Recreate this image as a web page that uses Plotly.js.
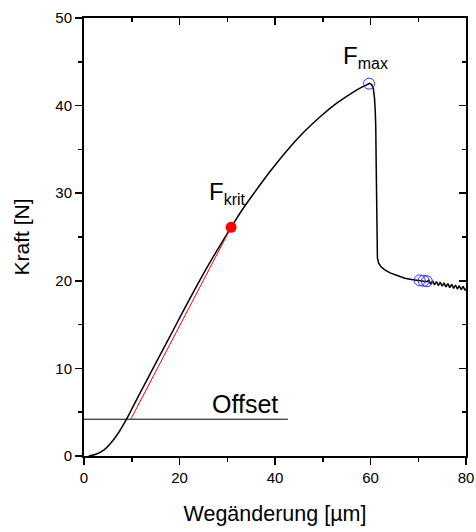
<!DOCTYPE html>
<html>
<head>
<meta charset="utf-8">
<script src="https://cdn.plot.ly/plotly-3.0.1.min.js"></script>
<style>html,body{margin:0;padding:0;background:#fff;}#chart{width:476px;height:532px;}</style>
</head>
<body>
<div id="chart"></div>
<script>
// Measured curve (Weg in µm, Kraft in N): loading part up to F_max
const loadX = [1.0, 2.5, 4.2, 5.8, 7.4, 8.9, 10.5, 13.0, 16.0, 19.0, 22.0, 25.0, 28.0, 30.8, 33.0, 35.4, 39.0, 42.4, 46.0, 49.4, 53.0, 56.4, 58.2, 59.3, 59.9];
const loadY = [0.0, 0.2, 0.7, 1.6, 2.8, 4.2, 5.9, 8.5, 11.6, 14.7, 17.8, 20.8, 23.6, 26.1, 28.0, 29.85, 32.5, 34.8, 36.95, 38.7, 40.3, 41.55, 42.1, 42.4, 42.55];
// Drop and tail after F_max
const dropX = [59.9, 60.3, 60.6, 60.85, 61.0, 61.1, 61.2, 61.3, 61.35, 61.45, 61.7, 62.2, 63.0, 64.1, 65.6, 67.2, 68.6, 69.7, 70.3, 71.1, 71.8,
  72.2, 72.6, 73.0, 73.4, 73.8, 74.2, 74.6, 75.0, 75.4, 75.8, 76.2, 76.6, 77.0, 77.4, 77.8, 78.2, 78.6, 79.0, 79.4, 79.8, 80.0];
const dropY = [42.55, 42.35, 41.9, 40.8, 39.3, 37.6, 33.0, 28.0, 24.0, 22.6, 22.0, 21.6, 21.25, 20.9, 20.6, 20.3, 20.15, 20.05, 20.0, 19.95, 19.9,
  20.08, 19.62, 20.0, 19.54, 19.92, 19.46, 19.84, 19.38, 19.76, 19.3, 19.68, 19.22, 19.6, 19.14, 19.52, 19.06, 19.44, 18.98, 19.36, 18.9, 19.1];
// Tangent (red) line
const fitX = [9.8, 30.8];
const fitY = [4.2, 26.1];
// Offset line
const offsetX = [0, 42.7];
const offsetY = [4.2, 4.2];
// F_krit point
const fkritX = [30.8];
const fkritY = [26.1];
// F_max and end circles
const circX = [59.7, 70.3, 71.1, 71.8];
const circY = [42.5, 20.05, 20.0, 19.95];
// Labels
const labelText = ['F<sub><span style="font-size:16px">max</span></sub>', 'F<sub><span style="font-size:16px">krit</span></sub>', 'Offset'];
const labelX = [53.9, 25.8, 26.4];
const labelY = [45.6, 30.0, 5.9];

const FONT = 'Liberation Sans, Arial, sans-serif';

const traces = [
  {x: offsetX, y: offsetY, mode: 'lines', line: {color: '#000', width: 1}, hoverinfo: 'skip'},
  {x: loadX, y: loadY, mode: 'lines', line: {color: '#000', width: 1.5, shape: 'spline', smoothing: 0.8}, hoverinfo: 'skip'},
  {x: dropX, y: dropY, mode: 'lines', line: {color: '#000', width: 1.5}, hoverinfo: 'skip'},
  {x: fitX, y: fitY, mode: 'lines', line: {color: '#ff0000', width: 1}, hoverinfo: 'skip'},
  {x: fkritX, y: fkritY, mode: 'markers', marker: {color: '#ff0000', size: 11, symbol: 'circle'}, hoverinfo: 'skip'},
  {x: circX, y: circY, mode: 'markers', marker: {color: '#3333ff', size: 11, symbol: 'circle-open', line: {width: 1, color: '#3333ff'}}, hoverinfo: 'skip'},
  {x: [0], y: [0], xaxis: 'x2', yaxis: 'y2', mode: 'markers', marker: {opacity: 0}, hoverinfo: 'skip'}
];

const axisCommon = {
  showgrid: false, zeroline: false, showline: true, linecolor: '#000', linewidth: 2,
  ticks: 'outside', ticklen: 7, tickwidth: 1.5, tickcolor: '#000',
  tickfont: {family: FONT, size: 15, color: '#000'},
  fixedrange: true
};

const layout = {
  width: 476, height: 532,
  margin: {l: 84, r: 10, t: 18, b: 76},
  paper_bgcolor: '#fff', plot_bgcolor: '#fff',
  showlegend: false,
  font: {family: FONT, color: '#000'},
  xaxis: Object.assign({}, axisCommon, {
    range: [0, 80], dtick: 20, tick0: 0,
    minor: {dtick: 10, ticks: 'outside', ticklen: 4, tickwidth: 1.5, tickcolor: '#000'},
    title: {text: 'Wegänderung [µm]', font: {family: FONT, size: 21.5, color: '#000'}, standoff: 21}
  }),
  yaxis: Object.assign({}, axisCommon, {
    range: [0, 50], dtick: 10, tick0: 0,
    minor: {dtick: 5, ticks: 'outside', ticklen: 4, tickwidth: 1.5, tickcolor: '#000'},
    title: {text: 'Kraft [N]', font: {family: FONT, size: 21, color: '#000'}, standoff: 20}
  }),
  xaxis2: Object.assign({}, axisCommon, {
    overlaying: 'x', side: 'top', anchor: 'y2', range: [0, 80], dtick: 20, tick0: 0,
    ticks: 'inside', showticklabels: false,
    minor: {dtick: 10, ticks: 'inside', ticklen: 4, tickwidth: 1.5, tickcolor: '#000'}
  }),
  yaxis2: Object.assign({}, axisCommon, {
    overlaying: 'y', side: 'right', anchor: 'x2', range: [0, 50], dtick: 10, tick0: 0,
    ticks: 'inside', showticklabels: false,
    minor: {dtick: 5, ticks: 'inside', ticklen: 4, tickwidth: 1.5, tickcolor: '#000'}
  }),
  annotations: labelText.map((t, i) => ({
    text: t, x: labelX[i], y: labelY[i], xref: 'x', yref: 'y',
    xanchor: 'left', yanchor: 'middle', showarrow: false,
    font: {family: FONT, size: i === 2 ? 25 : 24, color: '#000'}
  }))
};

Plotly.newPlot('chart', traces, layout, {staticPlot: true, displayModeBar: false});
</script>
</body>
</html>
